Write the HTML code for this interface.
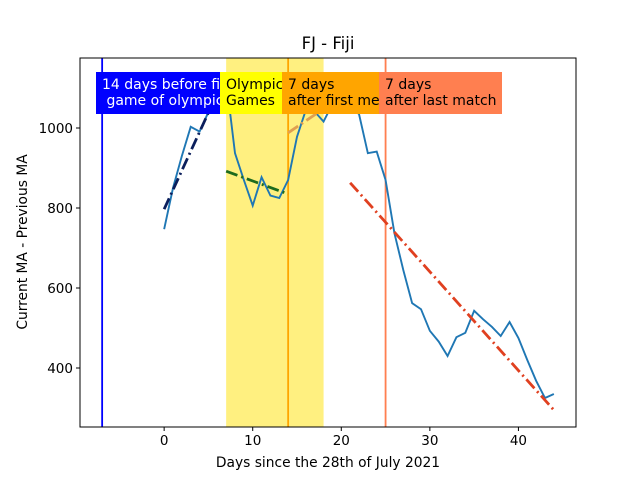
<!DOCTYPE html>
<html><head><meta charset="utf-8"><style>body{margin:0;background:#fff}svg{display:block;font-family:"DejaVu Sans","Liberation Sans",sans-serif}</style></head>
<body>
<svg id="c" width="640" height="480" xmlns="http://www.w3.org/2000/svg"></svg>
<script>
const days=[0,1,2,3,4,5,6,7,8,9,10,11,12,13,14,15,16,17,18,19,20,21,22,23,24,25,26,27,28,29,30,31,32,33,34,35,36,37,38,39,40,41,42,43,44];
const values=[747,850,930,1003,991,1040,1100,1120,937,870,806,877,831,825,870,978,1045,1041,1016,1060,1080,1050,1035,937,941,870,737,645,562,547,493,466,430,477,488,543,522,503,480,515,475,420,368,325,335];
const trendNavy=[[0,797],[7,1135]];
const trendGreen=[[7,892],[14,835]];
const trendTan=[[14,988],[18,1048]];
const trendRed=[[21,863],[44,295]];
const xTicks=[0,10,20,30,40];
const yTicks=[400,600,800,1000];
const L=80,R=576,T=58,B=427,X0=-9.5,X1=46.5,Y0=252.5,Y1=1175;
const sx=v=>L+(v-X0)/(X1-X0)*(R-L), sy=v=>B-(v-Y0)/(Y1-Y0)*(B-T);
const svg=document.getElementById('c');const NS='http://www.w3.org/2000/svg';
function mk(t,a,p){const e=document.createElementNS(NS,t);for(const k in a)e.setAttribute(k,a[k]);(p||svg).appendChild(e);return e;}
const cp=mk('clipPath',{id:'pc'});mk('rect',{x:L,y:T,width:R-L,height:B-T},cp);
const g=mk('g',{'clip-path':'url(#pc)'});
let e=mk('rect',{x:sx(7),y:T,width:sx(18)-sx(7),height:B-T,fill:'#fff080'},g);

e=mk('line',{x1:sx(-7),x2:sx(-7),y1:T,y2:B,stroke:'#0000ff','stroke-width':1.8},g);

e=mk('line',{x1:sx(14),x2:sx(14),y1:T,y2:B,stroke:'#ffa500','stroke-width':1.8},g);

e=mk('line',{x1:sx(25),x2:sx(25),y1:T,y2:B,stroke:'#ff7f50','stroke-width':1.8},g);

e=mk('polyline',{points:days.map((d,i)=>sx(d)+','+sy(values[i])).join(' '),fill:'none',stroke:'#1f77b4','stroke-width':1.9},g);

function tl(pts,col,name){const l=mk('line',{x1:sx(pts[0][0]),y1:sy(pts[0][1]),x2:sx(pts[1][0]),y2:sy(pts[1][1]),stroke:col,'stroke-width':2.8,'stroke-dasharray':'12,4,2,4'},g);

}
tl(trendNavy,'#0b1f5c','trend-before');tl(trendGreen,'#1e6b1e','trend-olympics');tl(trendTan,'#e0a050','trend-after-medal');tl(trendRed,'#e04020','trend-after-last-match');
function box(x,w,col,tc,l1,l2,name){const gg=mk('g',{});
const c=mk('clipPath',{id:name+'c'});mk('rect',{x:x,y:72,width:w,height:42},c);
mk('rect',{x:x,y:72,width:w,height:42,fill:col},gg);
const t=mk('text',{x:x+6,y:89,'font-size':14,fill:tc,'clip-path':'url(#'+name+'c)','xml:space':'preserve'},gg);t.textContent=l1;
const t2=mk('text',{x:x+6,y:105,'font-size':14,fill:tc,'clip-path':'url(#'+name+'c)','xml:space':'preserve'},gg);t2.textContent=l2;t2.style.whiteSpace='pre';}
box(96,124,'#0000ff','#fff','14 days before first',' game of olympics','label-before-first-game');
box(220,62,'#ffff00','#000','Olympic','Games','label-olympic-games');
box(282,98,'#ffa500','#000','7 days','after first medal','label-first-medal');
box(379,123,'#ff7f50','#000','7 days','after last match','label-last-match');
e=mk('rect',{x:L,y:T,width:R-L,height:B-T,fill:'none',stroke:'#000','stroke-width':1});

xTicks.forEach(v=>{mk('line',{x1:sx(v),x2:sx(v),y1:B,y2:B+4,stroke:'#000'});const t=mk('text',{x:sx(v),y:B+18,'font-size':13.5,'text-anchor':'middle'});t.textContent=v;
});
yTicks.forEach(v=>{mk('line',{x1:L-4,x2:L,y1:sy(v),y2:sy(v),stroke:'#000'});const t=mk('text',{x:L-7,y:sy(v)+5,'font-size':13.5,'text-anchor':'end'});t.textContent=v;
});
e=mk('text',{x:328,y:49,'font-size':16.5,'text-anchor':'middle'});e.textContent='FJ - Fiji';

e=mk('text',{x:328,y:467,'font-size':13.8,'text-anchor':'middle'});e.textContent='Days since the 28th of July 2021';

e=mk('text',{x:27,y:242,'font-size':13.8,'text-anchor':'middle',transform:'rotate(-90 27 242)'});e.textContent='Current MA - Previous MA';

</script>
</body></html>
